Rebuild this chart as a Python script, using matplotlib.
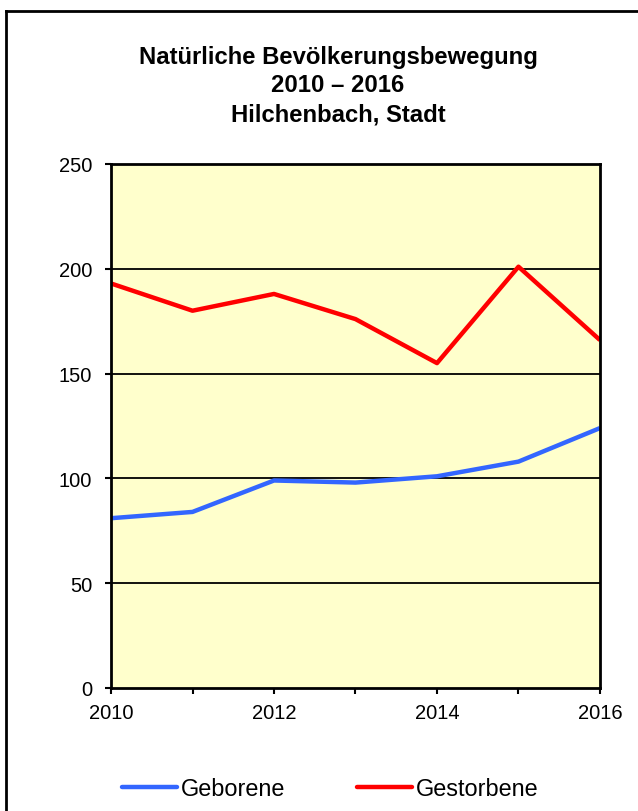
import matplotlib.pyplot as plt
from matplotlib.lines import Line2D

years = [2010, 2011, 2012, 2013, 2014, 2015, 2016]
geborene = [81, 84, 99, 98, 101, 108, 124]
gestorbene = [193, 180, 188, 176, 155, 201, 166]
y_ticks = [0, 50, 100, 150, 200, 250]
x_labels = [2010, 2012, 2014, 2016]

plt.rcParams['font.family'] = ['Liberation Sans', 'DejaVu Sans']

fig = plt.figure(figsize=(6.38, 8.12), dpi=100)
ax = fig.add_axes([0.174, 0.1515, 0.7664, 0.6453])
ax.set_facecolor('#FFFFCC')

# outer frame (only top and left edges visible in the crop)
fig.add_artist(Line2D([6 / 638, 6 / 638], [0, 1 - 12 / 812], transform=fig.transFigure,
                      color='black', linewidth=2))
fig.add_artist(Line2D([6 / 638, 1], [1 - 12 / 812, 1 - 12 / 812], transform=fig.transFigure,
                      color='black', linewidth=2))

ax.plot(years, geborene, color='#3366FF', linewidth=3.2, label='Geborene', solid_capstyle='butt')
ax.plot(years, gestorbene, color='#FF0000', linewidth=3.2, label='Gestorbene', solid_capstyle='butt')

ax.set_xlim(2010, 2016)
ax.set_ylim(0, 250)
ax.set_yticks(y_ticks)
ax.set_xticks(years)
ax.set_xticklabels([str(y) if y in x_labels else '' for y in years])
for t in y_ticks[1:-1]:
    ax.axhline(t, color='black', linewidth=1.3, zorder=1)

for s in ax.spines.values():
    s.set_linewidth(2)
ax.tick_params(direction='out', length=4.5, width=1.5, labelsize=14.5)
ax.tick_params(axis='y', pad=9)
ax.tick_params(axis='x', pad=6)

fig.text(338 / 638, 1 - 86 / 812, 'Natürliche Bevölkerungsbewegung\n2010 – 2016\nHilchenbach, Stadt',
         ha='center', va='center', fontsize=17.2, fontweight='bold', linespacing=1.33)

leg = fig.legend(loc='center', bbox_to_anchor=(330 / 638, 1 - 790 / 812), ncol=2, frameon=False,
                 fontsize=16.9, handlelength=2.34, handletextpad=0.17, columnspacing=3.06)
for h in leg.legend_handles:
    h.set_solid_capstyle('round')

fig.savefig('out.png', dpi=100)
